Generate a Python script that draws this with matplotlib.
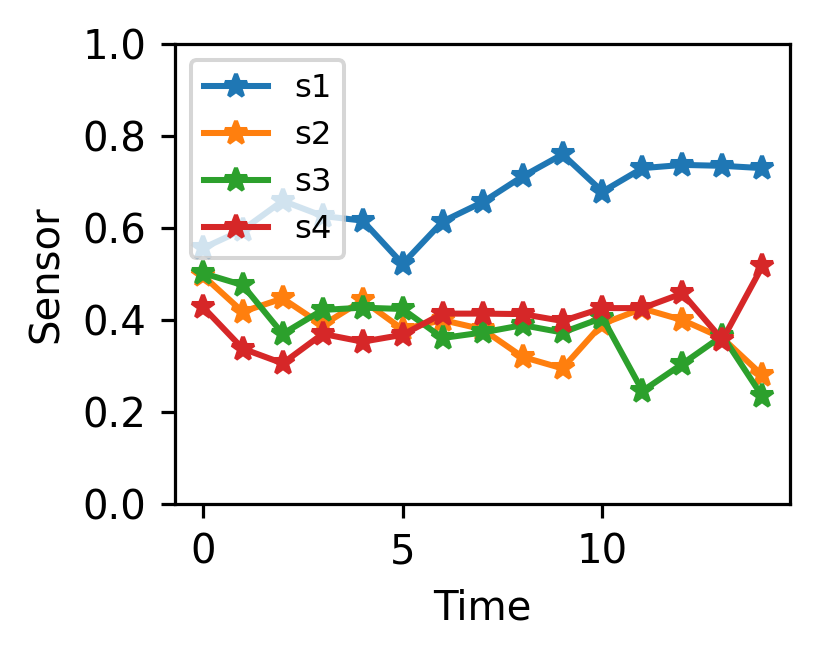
import matplotlib
matplotlib.use('Agg')
import matplotlib.pyplot as plt

time = list(range(15))
s1 = [0.556, 0.596, 0.659, 0.626, 0.616, 0.522, 0.614, 0.656, 0.712, 0.760, 0.679, 0.730, 0.737, 0.735, 0.730]
s2 = [0.497, 0.418, 0.447, 0.389, 0.443, 0.380, 0.400, 0.380, 0.320, 0.295, 0.392, 0.425, 0.400, 0.361, 0.280]
s3 = [0.502, 0.476, 0.370, 0.422, 0.427, 0.424, 0.361, 0.373, 0.389, 0.373, 0.405, 0.246, 0.305, 0.366, 0.234]
s4 = [0.429, 0.338, 0.306, 0.370, 0.353, 0.368, 0.414, 0.414, 0.413, 0.398, 0.426, 0.426, 0.458, 0.357, 0.517]
names = ['s1', 's2', 's3', 's4']

DPI = 290
fig = plt.figure(figsize=(832 / DPI, 654 / DPI), dpi=DPI)
ax = fig.add_axes([0.21, 0.229, 0.74, 0.704])
for vals, n in zip([s1, s2, s3, s4], names):
    ax.plot(time, vals, marker='*', label=n)
ax.set_ylim(0, 1)
ax.set_xlabel('Time')
ax.set_ylabel('Sensor')
ax.legend(loc='upper left', fontsize=8, handlelength=2)
fig.savefig('out.png', dpi=DPI)
